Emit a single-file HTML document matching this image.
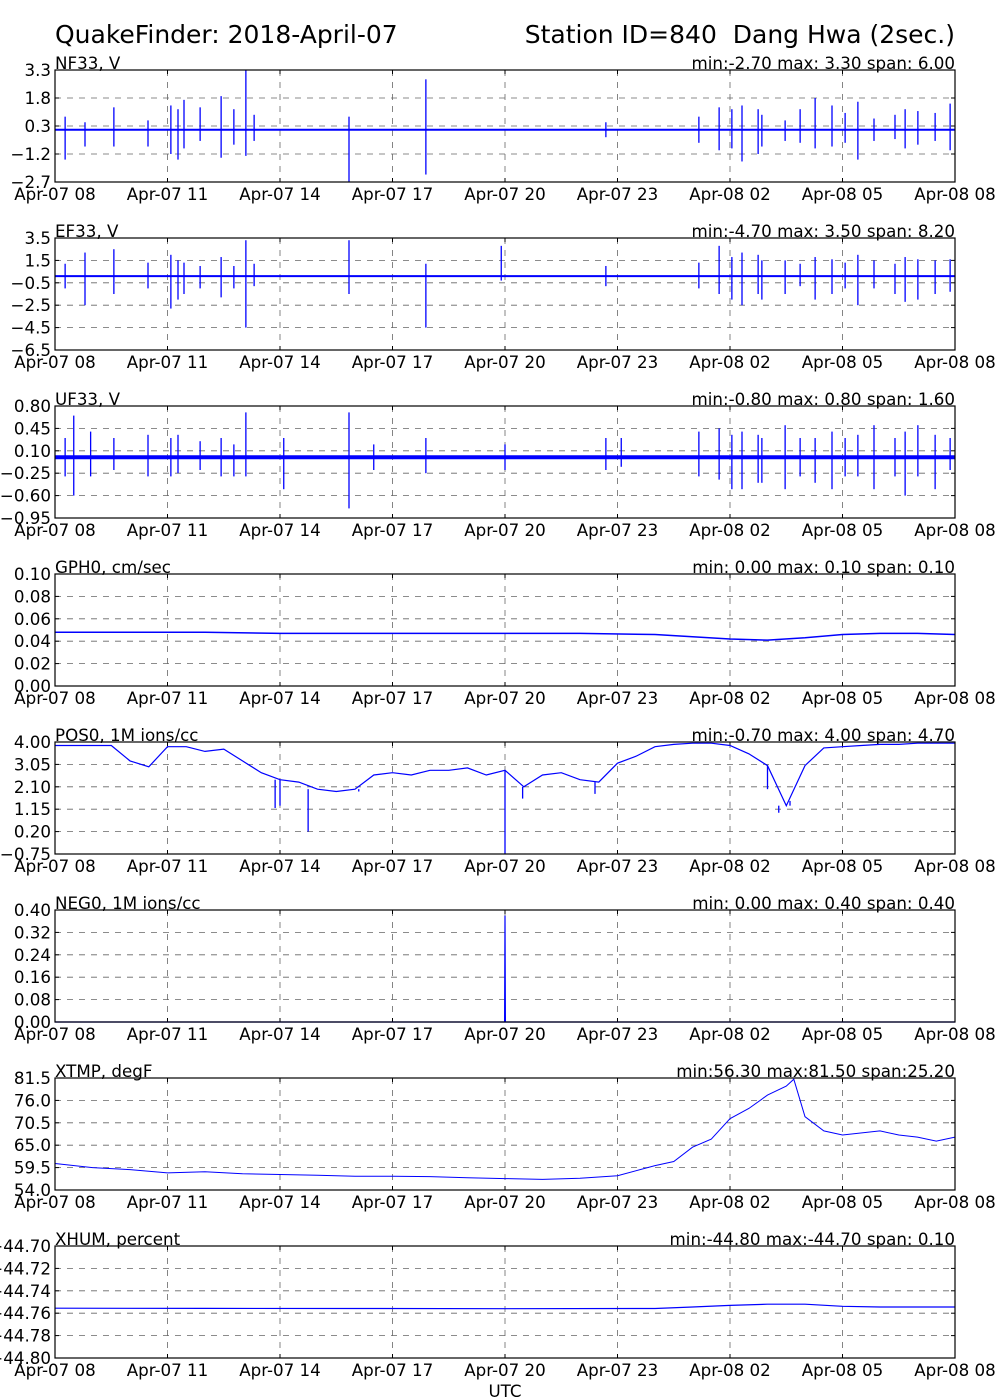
<!DOCTYPE html>
<html><head><meta charset="utf-8"><style>
body{margin:0;background:#fff}
svg{display:block;font-family:"DejaVu Sans","Liberation Sans",sans-serif}
</style></head><body>
<svg id="c" width="1000" height="1400" viewBox="0 0 1000 1400">
<text x="55" y="43" font-size="25">QuakeFinder: 2018-April-07</text>
<text x="955" y="43" font-size="25" text-anchor="end" xml:space="preserve">Station ID=840  Dang Hwa (2sec.)</text>
<text x="505" y="1397" font-size="16.7" text-anchor="middle">UTC</text>
</svg>
<script>
const xTickLabels=["Apr-07 08","Apr-07 11","Apr-07 14","Apr-07 17","Apr-07 20","Apr-07 23","Apr-08 02","Apr-08 05","Apr-08 08"];
// NF33
const nfBase=0.1;
const nfT=[0.27,0.8,1.57,2.48,3.09,3.28,3.44,3.87,4.43,4.77,5.09,5.31,7.84,9.89,14.69,17.17,17.71,18.05,18.32,18.75,18.85,19.47,19.87,20.27,20.72,21.07,21.41,21.84,22.4,22.67,23.01,23.47,23.87];
const nfHi=[0.8,0.5,1.3,0.6,1.4,1.2,1.7,1.3,1.9,1.2,3.3,0.9,0.8,2.8,0.5,0.8,1.3,1.2,1.4,1.2,0.9,0.6,1.2,1.8,1.4,1.0,1.6,0.7,0.9,1.2,1.1,1.0,1.5];
const nfLo=[-1.5,-0.8,-0.8,-0.8,-1.2,-1.5,-0.9,-0.5,-1.4,-0.7,-1.3,-0.5,-2.7,-2.3,-0.3,-0.6,-1.0,-0.9,-1.6,-1.2,-0.8,-0.5,-0.6,-0.9,-0.8,-0.6,-1.5,-0.5,-0.4,-0.9,-0.7,-0.5,-1.0];
// EF33
const efBase=0.1;
const efT=[0.27,0.8,1.57,2.48,3.09,3.28,3.44,3.87,4.43,4.77,5.09,5.31,7.84,9.89,11.9,14.69,17.17,17.71,18.05,18.32,18.75,18.85,19.47,19.87,20.27,20.72,21.07,21.41,21.84,22.4,22.67,23.01,23.47,23.87];
const efHi=[1.2,2.2,2.5,1.3,2.0,1.5,1.3,1.0,1.8,1.0,3.3,1.2,3.3,1.2,2.8,1.0,1.3,2.8,1.8,2.2,2.0,1.5,1.5,1.2,1.8,1.6,1.3,2.0,1.5,1.2,1.8,1.6,1.5,1.6];
const efLo=[-1.0,-2.5,-1.5,-1.0,-2.8,-2.0,-1.5,-1.0,-1.8,-1.0,-4.5,-0.8,-1.5,-4.5,-0.3,-0.8,-1.0,-1.5,-2.0,-2.5,-1.5,-2.0,-1.5,-0.8,-2.0,-1.5,-1.0,-2.5,-1.0,-1.5,-2.2,-2.0,-1.5,-1.3];
// UF33
const ufBase=0.0;
const ufT=[0.27,0.5,0.95,1.57,2.48,3.09,3.28,3.87,4.43,4.77,5.09,6.1,7.84,8.5,9.89,12.0,14.69,15.1,17.17,17.71,18.05,18.32,18.75,18.85,19.47,19.87,20.27,20.72,21.07,21.41,21.84,22.4,22.67,23.01,23.47,23.87];
const ufHi=[0.3,0.65,0.4,0.3,0.35,0.3,0.35,0.25,0.3,0.2,0.7,0.3,0.7,0.2,0.3,0.2,0.3,0.3,0.4,0.45,0.35,0.4,0.35,0.3,0.5,0.3,0.3,0.4,0.3,0.35,0.5,0.3,0.4,0.5,0.35,0.3];
const ufLo=[-0.3,-0.6,-0.3,-0.2,-0.3,-0.3,-0.25,-0.2,-0.3,-0.3,-0.3,-0.5,-0.8,-0.2,-0.25,-0.2,-0.2,-0.15,-0.3,-0.35,-0.5,-0.5,-0.4,-0.4,-0.5,-0.3,-0.4,-0.5,-0.3,-0.3,-0.5,-0.3,-0.6,-0.3,-0.5,-0.2];
// GPH0
const gphT=[0,2,4,6,8,10,12,14,16,17,18,19,20,21,22,23,24];
const gphV=[0.048,0.048,0.048,0.047,0.047,0.047,0.047,0.047,0.046,0.044,0.042,0.041,0.043,0.046,0.047,0.047,0.046];
// POS0
const posT=[0,0.5,1,1.5,2,2.5,3,3.5,4,4.5,5,5.5,6,6.5,7,7.5,8,8.5,9,9.5,10,10.5,11,11.5,12,12.5,13,13.5,14,14.5,15,15.5,16,16.5,17,17.5,18,18.5,19,19.5,20,20.5,21,21.5,22,22.5,23,23.5,24];
const posV=[3.85,3.85,3.85,3.85,3.2,2.95,3.8,3.8,3.6,3.7,3.2,2.7,2.4,2.3,2.0,1.9,2.0,2.6,2.7,2.6,2.8,2.8,2.9,2.6,2.8,2.1,2.6,2.7,2.4,2.3,3.1,3.4,3.8,3.9,3.95,3.95,3.85,3.5,3.0,1.3,3.0,3.75,3.8,3.85,3.9,3.9,3.95,3.95,3.95];
const posSpT=[5.87,6.0,6.75,8.1,12.0,12.47,14.4,19.0,19.3,19.6];
const posSpV=[1.2,1.3,0.2,1.9,-0.75,1.6,1.8,2.0,1.0,1.5];
// NEG0
const negT=[0,11.99,12.0,12.01,24];
const negV=[0,0,0.38,0,0];
// XTMP
const tmpT=[0,1,2,3,4,5,6,7,8,9,10,11,12,13,14,15,16,16.5,17,17.5,18,18.5,19,19.5,19.7,20,20.5,21,22,22.5,23,23.5,24];
const tmpV=[60.5,59.5,59.0,58.2,58.5,58.0,57.8,57.6,57.4,57.4,57.3,57.0,56.8,56.6,56.9,57.5,60.0,61.0,64.5,66.5,71.5,74,77.3,79.5,81.2,72,68.5,67.5,68.5,67.5,67,66,67];
// XHUM
const humT=[0,4,8,12,16,17,18,19,20,21,22,24];
const humV=[-44.7555,-44.7557,-44.7558,-44.756,-44.7558,-44.7545,-44.753,-44.752,-44.752,-44.7538,-44.7545,-44.7545];

const panels=[
 {name:"nf33",label:"NF33, V",stats:"min:-2.70 max: 3.30 span: 6.00",ticks:["3.3","1.8","0.3","\u22121.2","\u22122.7"],min:-2.7,max:3.3},
 {name:"ef33",label:"EF33, V",stats:"min:-4.70 max: 3.50 span: 8.20",ticks:["3.5","1.5","\u22120.5","\u22122.5","\u22124.5","\u22126.5"],min:-6.5,max:3.5},
 {name:"uf33",label:"UF33, V",stats:"min:-0.80 max: 0.80 span: 1.60",ticks:["0.80","0.45","0.10","\u22120.25","\u22120.60","\u22120.95"],min:-0.95,max:0.8},
 {name:"gph0",label:"GPH0, cm/sec",stats:"min: 0.00 max: 0.10 span: 0.10",ticks:["0.10","0.08","0.06","0.04","0.02","0.00"],min:0,max:0.1},
 {name:"pos0",label:"POS0, 1M ions/cc",stats:"min:-0.70 max: 4.00 span: 4.70",ticks:["4.00","3.05","2.10","1.15","0.20","\u22120.75"],min:-0.75,max:4.0},
 {name:"neg0",label:"NEG0, 1M ions/cc",stats:"min: 0.00 max: 0.40 span: 0.40",ticks:["0.40","0.32","0.24","0.16","0.08","0.00"],min:0,max:0.4},
 {name:"xtmp",label:"XTMP, degF",stats:"min:56.30 max:81.50 span:25.20",ticks:["81.5","76.0","70.5","65.0","59.5","54.0"],min:54,max:81.5},
 {name:"xhum",label:"XHUM, percent",stats:"min:-44.80 max:-44.70 span: 0.10",ticks:["\u221244.70","\u221244.72","\u221244.74","\u221244.76","\u221244.78","\u221244.80"],min:-44.8,max:-44.7}
];
const svg=document.getElementById('c');
const NS='http://www.w3.org/2000/svg';
const L=55,R=955,H=112,FS=16.7;
function mk(tag,attrs,parent){const e=document.createElementNS(NS,tag);for(const k in attrs)e.setAttribute(k,attrs[k]);(parent||svg).appendChild(e);return e;}
const xs=h=>L+h*(R-L)/24;
panels.forEach((p,i)=>{
 const top=70+i*168,bot=top+H;
 const ys=v=>top+(p.max-v)/(p.max-p.min)*H;
 const g=mk('g',{});
 
 
 const nT=p.ticks.length;
 for(let k=0;k<nT;k++){
  const y=top+k*H/(nT-1);
  if(k>0&&k<nT-1){const gl=mk('line',{x1:L,x2:R,y1:y,y2:y,stroke:'#666','stroke-dasharray':'6,6','stroke-width':0.8},g);}
  const t=mk('text',{x:51,y:y+6,'font-size':FS,'text-anchor':'end'},g);t.textContent=p.ticks[k];
  
  mk('line',{x1:L,x2:L+4,y1:y,y2:y,stroke:'#000'},g);mk('line',{x1:R-4,x2:R,y1:y,y2:y,stroke:'#000'},g);
 }
 for(let k=0;k<9;k++){
  const x=xs(k*3);
  if(k>0&&k<8){const gl=mk('line',{x1:x,x2:x,y1:top,y2:bot,stroke:'#666','stroke-dasharray':'6,6','stroke-width':0.8},g);}
  mk('line',{x1:x,x2:x,y1:bot-4,y2:bot,stroke:'#000'},g);mk('line',{x1:x,x2:x,y1:top,y2:top+4,stroke:'#000'},g);
  const t=mk('text',{x:x,y:bot+18,'font-size':FS,'text-anchor':'middle'},g);t.textContent=xTickLabels[k];
  
 }
 const lb=mk('text',{x:L,y:top-1,'font-size':FS},g);lb.textContent=p.label;
 
 const st=mk('text',{x:R,y:top-1,'font-size':FS,'text-anchor':'end'},g);st.textContent=p.stats;
 
 p.g=g;p.ys=ys;p.top=top;p.bot=bot;
});
function spikes(p,base,T,hi,lo,bw){
 const bl=mk('line',{x1:L,x2:R,y1:p.ys(base),y2:p.ys(base),stroke:'#00f','stroke-width':bw},p.g);
 
 
 T.forEach((t,k)=>{
  const s=mk('line',{x1:xs(t),x2:xs(t),y1:p.ys(hi[k]),y2:p.ys(lo[k]),stroke:'#00f','stroke-width':1.3},p.g);
  
  
 });
}
function line(p,T,V,w){
 const d=T.map((t,k)=>(k?'L':'M')+xs(t).toFixed(1)+','+p.ys(V[k]).toFixed(1)).join('');
 const pa=mk('path',{d:d,fill:'none',stroke:'#00f','stroke-width':w},p.g);
 
 
}
spikes(panels[0],nfBase,nfT,nfHi,nfLo,2);
spikes(panels[1],efBase,efT,efHi,efLo,2);
spikes(panels[2],ufBase,ufT,ufHi,ufLo,4);
line(panels[3],gphT,gphV,1.5);
line(panels[4],posT,posV,1.2);
posSpT.forEach((t,k)=>{const p=panels[4];const y0=p.ys(posV[Math.round(t*2)]);
 const s=mk('line',{x1:xs(t),x2:xs(t),y1:y0,y2:p.ys(posSpV[k]),stroke:'#00f','stroke-width':1.3},p.g);
 
 });
line(panels[5],negT,negV,1.2);
line(panels[6],tmpT,tmpV,1);
line(panels[7],humT,humV,1.2);
panels.forEach(p=>{const f=mk('rect',{x:L,y:p.top,width:R-L,height:H,fill:'none',stroke:'#000','stroke-width':1.2},p.g);
 
 });
</script>
</body></html>
